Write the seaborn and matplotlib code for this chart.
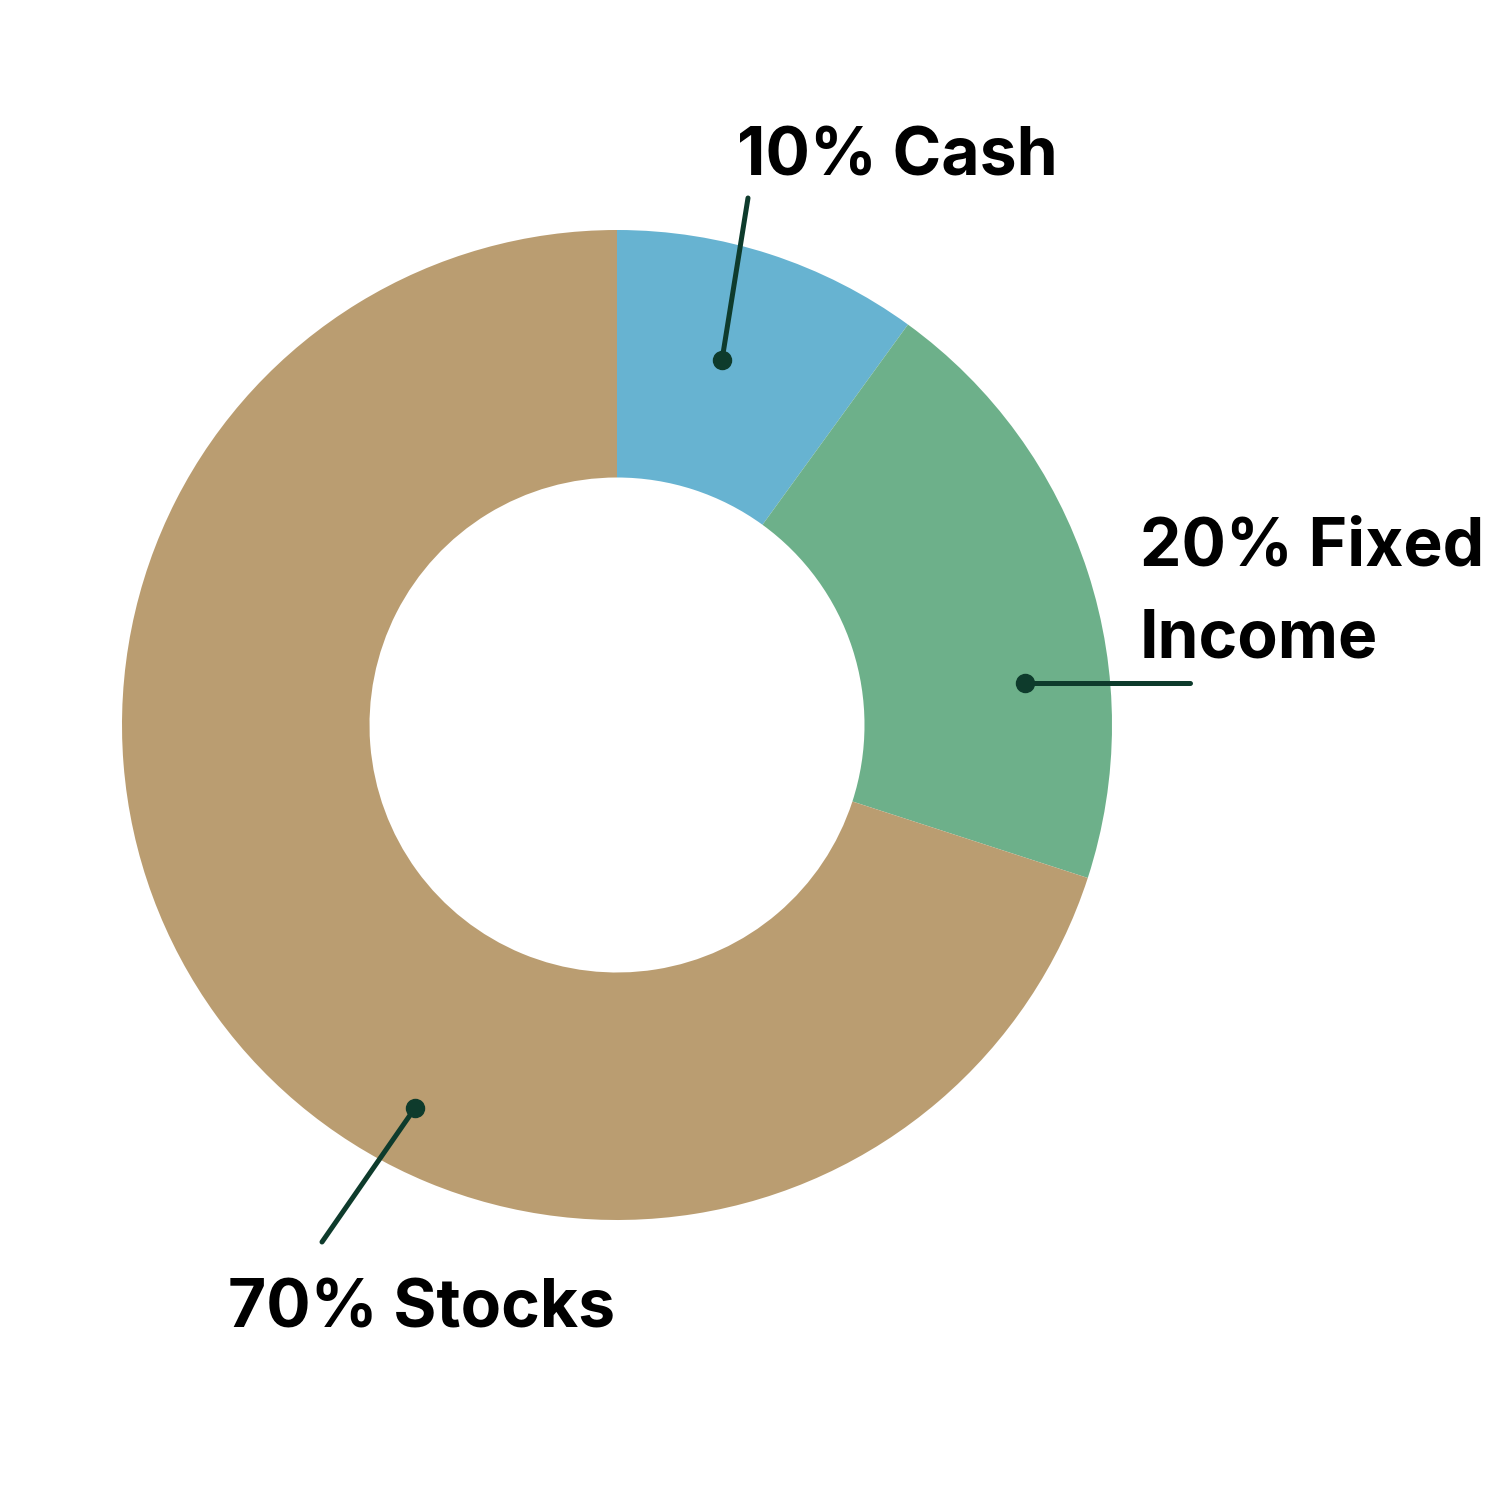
import matplotlib.pyplot as plt
import seaborn as sns

# allocation data
labels = ['10% Cash', '20% Fixed\nIncome', '70% Stocks']
shares = [10, 20, 70]
colors = ['#67B3D1', '#6DB08A', '#BA9D71']

# callout geometry in pixels (dot, line end, first-line baseline)
dots = [(722, 360), (1025, 683), (415, 1108)]
ends = [(748, 198), (1190, 683), (322, 1242)]
text_pos = [(737, 176), (1140, 566), (228, 1328)]
LINE_GAP = 92

sns.set_theme(style='white')
plt.rcParams['font.family'] = ['Inter', 'DejaVu Sans']

CX, CY, R = 617, 725, 495


def to_data(p):
    return (p[0] - CX) / R, (CY - p[1]) / R


fig = plt.figure(figsize=(15, 15), dpi=100)
ax = fig.add_axes([0, 0, 1, 1])
ax.pie(shares, colors=colors, startangle=90, counterclock=False,
       radius=1, wedgeprops=dict(width=0.5, edgecolor='none'))

line_col = '#0E3B2C'
for d, e in zip(dots, ends):
    dx, dy = to_data(d)
    ex, ey = to_data(e)
    ax.plot([dx, ex], [dy, ey], color=line_col, lw=3.6, solid_capstyle='round')
    ax.plot(dx, dy, 'o', color=line_col, ms=13)

for lab, p in zip(labels, text_pos):
    for i, line in enumerate(lab.split('\n')):
        x, y = to_data((p[0], p[1] + i * LINE_GAP))
        ax.text(x, y, line, ha='left', va='baseline', fontsize=47.5,
                fontweight='bold', color='black')

ax.set_xlim(-CX / R, (1500 - CX) / R)
ax.set_ylim(-(1500 - CY) / R, CY / R)
ax.set_aspect('auto')
ax.axis('off')

fig.savefig('out.png', dpi=100, facecolor='white')
